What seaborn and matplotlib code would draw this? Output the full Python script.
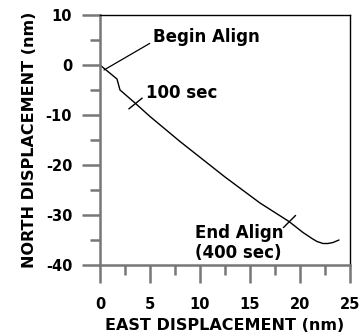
import matplotlib
matplotlib.use("Agg")
import matplotlib.pyplot as plt
import seaborn as sns
import pandas as pd
from matplotlib.ticker import MultipleLocator

# Track of the stage position during alignment (nm)
east = [0.0, 1.7, 1.85, 2.0, 3.5, 5.0, 8.0, 12.5, 16.0, 18.9, 20.3, 21.2, 21.7, 22.3, 22.8, 23.3, 23.9]
north = [0.0, -2.8, -3.9, -5.0, -7.6, -10.3, -15.3, -22.4, -27.6, -31.3, -33.5, -34.7, -35.3, -35.7, -35.7, -35.5, -35.0]

# Time markers along the track: 100 sec and 400 sec
mark_east = [3.5, 18.9]
mark_north = [-7.6, -31.3]
mark_angle = [-51, -45]

x_ticks = [0, 5, 10, 15, 20, 25]
y_ticks = [-40, -30, -20, -10, 0, 10]

sns.set_style("ticks")
plt.rcParams["font.family"] = ["DejaVu Sans"]
plt.rcParams["font.weight"] = "bold"
plt.rcParams["text.color"] = "black"
plt.rcParams["axes.labelcolor"] = "black"
plt.rcParams["axes.unicode_minus"] = False

fig = plt.figure(figsize=(3.6, 3.35), dpi=100)
ax = fig.add_axes([100 / 360, 70 / 335, 250 / 360, 250 / 335])

df = pd.DataFrame({"east": east, "north": north})
sns.lineplot(data=df, x="east", y="north", sort=False, estimator=None,
             color="black", linewidth=1.0, ax=ax)

for mx, my, ang in zip(mark_east, mark_north, mark_angle):
    ax.plot([mx], [my], marker=(2, 0, ang), markersize=13,
            markeredgewidth=1.0, color="black", linestyle="none")

ax.set_xlim(0, 25)
ax.set_ylim(-40, 10)
ax.set_xticks(x_ticks)
ax.set_yticks(y_ticks)
ax.xaxis.set_minor_locator(MultipleLocator(2.5))
ax.yaxis.set_minor_locator(MultipleLocator(5))

gray = "#777777"
for side in ("left", "bottom"):
    ax.spines[side].set_color(gray)
    ax.spines[side].set_linewidth(1.8)
for side in ("top", "right"):
    ax.spines[side].set_visible(True)
    ax.spines[side].set_color("black")
    ax.spines[side].set_linewidth(1.0)

ax.tick_params(axis="both", which="major", direction="out", length=13,
               width=1.8, color=gray, labelsize=10.5, labelcolor="black")
ax.tick_params(axis="both", which="minor", direction="out", length=7,
               width=1.8, color=gray)
ax.tick_params(axis="x", which="major", pad=10)
ax.tick_params(axis="y", which="major", pad=7)
for lab in ax.get_xticklabels() + ax.get_yticklabels():
    lab.set_fontweight("bold")

ax.set_xlabel("EAST DISPLACEMENT (nm)", fontsize=11.5, fontweight="bold",
              labelpad=4, color="black")
ax.set_ylabel("NORTH DISPLACEMENT (nm)", fontsize=11.5, fontweight="bold",
              labelpad=6, color="black")

ax.annotate("Begin Align", xy=(0.4, -1.0), xytext=(5.3, 5.6),
            ha="left", va="center", fontsize=12, fontweight="bold", color="black",
            arrowprops=dict(arrowstyle="-", color="black", lw=0.9,
                            shrinkA=0, shrinkB=0, relpos=(0, 0.25)))
ax.text(4.6, -5.6, "100 sec", ha="left", va="center", fontsize=12,
        fontweight="bold", color="black")
ax.text(9.5, -35.6, "End Align\n(400 sec)", ha="left", va="center",
        fontsize=12, fontweight="bold", linespacing=1.15, color="black")

fig.savefig("out.png", dpi=100)
